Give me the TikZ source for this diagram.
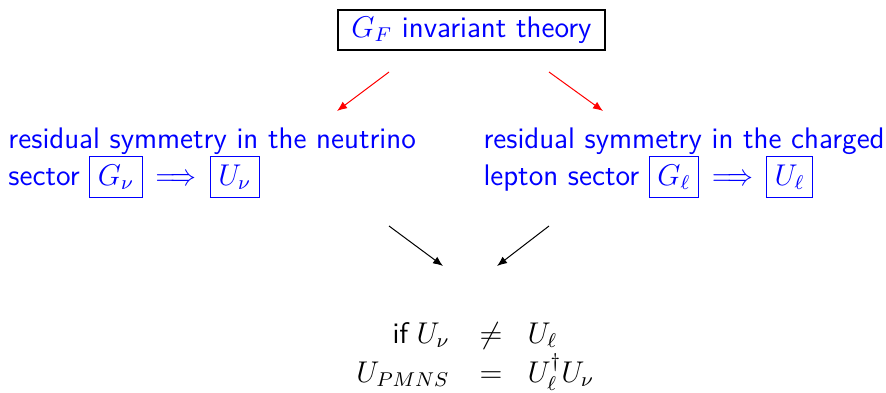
\documentclass[tikz,border=0pt]{standalone}
\usepackage{amsmath}
\renewcommand{\familydefault}{\sfdefault}
\usetikzlibrary{arrows.meta}
\newcommand{\myimp}{\hspace{5.2pt}\scalebox{0.86}[1]{$\Longrightarrow$}\hspace{5.2pt}}
\begin{document}
\begin{tikzpicture}[x=0.4pt,y=-0.4pt,
  lbl/.style={text=blue,font=\fontsize{11.9}{14.8}\selectfont,inner sep=0pt,anchor=base west},
  eqt/.style={text=black,font=\fontsize{11.9}{14.8}\selectfont,inner sep=0pt},
  redarr/.style={draw=red,-{Latex[length=4pt,width=3.2pt]},line width=0.4pt},
  blkarr/.style={draw=black,-{Latex[length=4pt,width=3.2pt]},line width=0.4pt}]
\useasboundingbox (0,0) rectangle (886,393);
\node[lbl,anchor=center,draw=black,line width=0.45pt,minimum width=267*0.4pt,minimum height=40*0.4pt,inner sep=0pt] (top) at (471.5,30) {$G_F$ invariant theory};
\node[lbl] (left1) at (8,148) {residual symmetry in the neutrino};
\node[lbl] (left2) at (8,185) {sector \fbox{$G_\nu$}\myimp\fbox{$U_\nu$}};
\node[lbl] (right1) at (483,148) {residual symmetry in the charged};
\node[lbl] (right2) at (483,185) {lepton sector \fbox{$G_\ell$}\myimp\fbox{$U_\ell$}};
\coordinate (r1s) at (389,72); \coordinate (r1e) at (337,111);
\coordinate (r2s) at (549,72); \coordinate (r2e) at (603,111);
\draw[redarr] (r1s) -- (r1e);
\draw[redarr] (r2s) -- (r2e);
\coordinate (b1s) at (389,226); \coordinate (b1e) at (443,266);
\coordinate (b2s) at (549,226); \coordinate (b2e) at (497,266);
\draw[blkarr] (b1s) -- (b1e);
\draw[blkarr] (b2s) -- (b2e);
\node[eqt,anchor=base east] (eq1l) at (450,343) {if\;$U_\nu$};
\node[eqt,anchor=base] (eq1c) at (491,343) {$\neq$};
\node[eqt,anchor=base west] (eq1r) at (527,343) {$U_\ell$};
\node[eqt,anchor=base east] (eq2l) at (450,382) {$U_{PMNS}$};
\node[eqt,anchor=base] (eq2c) at (491,382) {$=$};
\node[eqt,anchor=base west] (eq2r) at (527,382) {$U_\ell^\dagger U_\nu$};
\end{tikzpicture}
\end{document}
